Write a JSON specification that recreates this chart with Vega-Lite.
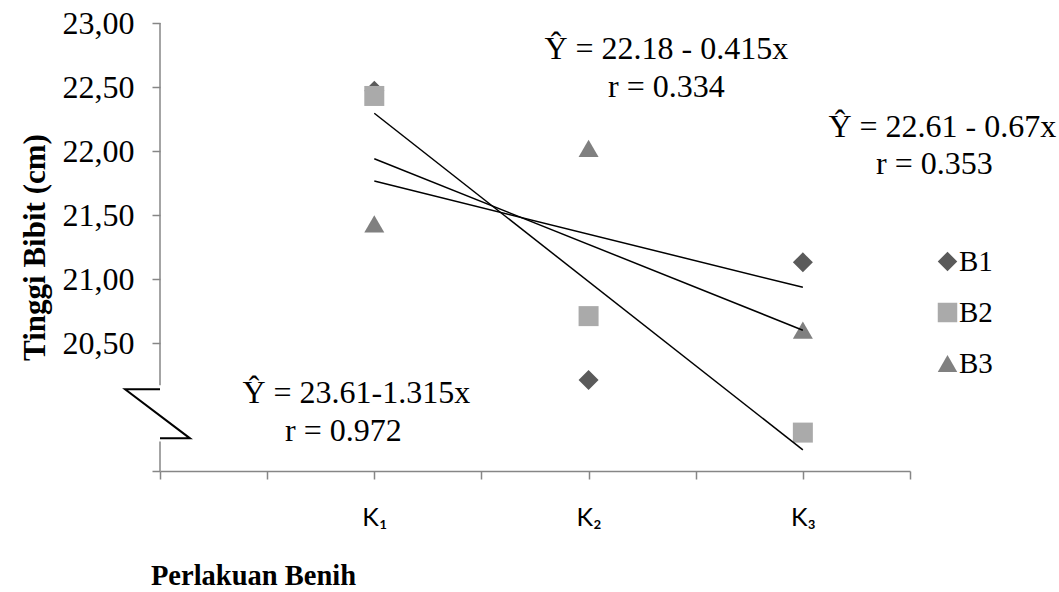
{
  "$schema": "https://vega.github.io/schema/vega-lite/v6.json",
  "autosize": {"type": "none"},
  "padding": {"left": 160, "top": 23, "right": 149, "bottom": 121},
  "width": 750,
  "height": 448,
  "background": "white",
  "config": {"view": {"stroke": null}, "font": "Liberation Serif"},
  "datasets": {
    "pts": [
      {"seri": "B1", "k": 1, "tinggi": 22.47},
      {"seri": "B1", "k": 2, "tinggi": 20.21},
      {"seri": "B1", "k": 3, "tinggi": 21.13},
      {"seri": "B2", "k": 1, "tinggi": 22.43},
      {"seri": "B2", "k": 2, "tinggi": 20.71},
      {"seri": "B2", "k": 3, "tinggi": 19.80},
      {"seri": "B3", "k": 1, "tinggi": 21.43},
      {"seri": "B3", "k": 2, "tinggi": 22.02},
      {"seri": "B3", "k": 3, "tinggi": 20.60}
    ],
    "notes": [
      {"label": "Ŷ = 22.18 - 0.415x", "nx": 2.363, "ny": 22.80},
      {"label": "r = 0.334", "nx": 2.363, "ny": 22.50},
      {"label": "Ŷ = 22.61 - 0.67x", "nx": 3.651, "ny": 22.19},
      {"label": "r = 0.353", "nx": 3.614, "ny": 21.90},
      {"label": "Ŷ = 23.61-1.315x", "nx": 0.916, "ny": 20.11},
      {"label": "r = 0.972", "nx": 0.856, "ny": 19.81}
    ],
    "yaxis": [
      {"ax": 0, "a1": 23, "a2": 20.17},
      {"ax": 0, "a1": 19.73, "a2": 19.5}
    ],
    "zig": [
      {"o": 1, "zx": 0, "zy": 20.138},
      {"o": 2, "zx": -0.163, "zy": 20.138},
      {"o": 3, "zx": 0.14, "zy": 19.755},
      {"o": 4, "zx": 0, "zy": 19.755}
    ]
  },
  "layer": [
    {
      "data": {"name": "yaxis"},
      "mark": {"type": "rule", "color": "#868686", "strokeWidth": 1.5},
      "encoding": {
        "x": {"field": "ax", "type": "quantitative", "scale": {"domain": [0, 3.5], "nice": false, "zero": false},
          "axis": {
            "values": [0, 0.5, 1, 1.5, 2, 2.5, 3, 3.5],
            "labelExpr": "datum.value == 1 ? 'K₁' : datum.value == 2 ? 'K₂' : datum.value == 3 ? 'K₃' : ''",
            "labelFont": "Lato", "labelFontSize": 25, "labelColor": "#000000", "labelPadding": 26,
            "tickSize": 8, "tickColor": "#868686", "tickWidth": 1.5,
            "domainColor": "#868686", "domainWidth": 1.5, "grid": false,
            "title": "Perlakuan Benih", "titleFont": "Liberation Serif", "titleFontSize": 28.5, "titleFontWeight": "bold",
            "titleColor": "#000000", "titleX": 93, "titleY": 104, "titleAlign": "center", "titleBaseline": "middle", "titleAnchor": null
          }},
        "y": {"field": "a1", "type": "quantitative", "scale": {"domain": [19.5, 23], "nice": false, "zero": false},
          "axis": {
            "values": [19.5, 20.5, 21, 21.5, 22, 22.5, 23],
            "labelExpr": "datum.value == 19.5 ? '' : replace(format(datum.value, '.2f'), '.', ',')",
            "labelFont": "Liberation Serif", "labelFontSize": 32, "labelColor": "#000000", "labelPadding": 18,
            "tickSize": 8, "tickColor": "#868686", "tickWidth": 1.5, "domain": false, "grid": false,
            "title": "Tinggi Bibit (cm)", "titleFont": "Liberation Serif", "titleFontSize": 31, "titleFontWeight": "bold",
            "titleColor": "#000000", "titleX": -125, "titleY": 224, "titleAlign": "center", "titleBaseline": "middle", "titleAngle": -90
          }},
        "y2": {"field": "a2"}
      }
    },
    {
      "data": {"name": "zig"},
      "mark": {"type": "line", "color": "#000000", "strokeWidth": 2},
      "encoding": {
        "x": {"field": "zx", "type": "quantitative"},
        "y": {"field": "zy", "type": "quantitative"},
        "order": {"field": "o"}
      }
    },
    {
      "data": {"name": "pts"},
      "mark": {"type": "point", "filled": true, "opacity": 1, "size": 400},
      "encoding": {
        "x": {"field": "k", "type": "quantitative"},
        "y": {"field": "tinggi", "type": "quantitative"},
        "shape": {"field": "seri", "type": "nominal", "title": null,
          "scale": {"domain": ["B1", "B2", "B3"], "range": ["diamond", "square", "triangle-up"]},
          "legend": {"orient": "none", "legendX": 773, "legendY": 224, "title": null,
            "labelFont": "Liberation Serif", "labelFontSize": 29, "labelColor": "#000000", "labelOffset": -3,
            "symbolSize": 380, "rowPadding": 21}},
        "color": {"field": "seri", "type": "nominal", "title": null,
          "scale": {"domain": ["B1", "B2", "B3"], "range": ["#5a5a5a", "#aaaaaa", "#808080"]},
          "legend": {"orient": "none", "legendX": 773, "legendY": 224, "title": null,
            "labelFont": "Liberation Serif", "labelFontSize": 29, "labelColor": "#000000", "labelOffset": -3,
            "symbolSize": 380, "rowPadding": 21}}
      }
    },
    {
      "data": {"name": "pts"},
      "transform": [{"regression": "tinggi", "on": "k", "groupby": ["seri"]}],
      "mark": {"type": "line", "color": "#000000", "strokeWidth": 1.5},
      "encoding": {
        "x": {"field": "k", "type": "quantitative"},
        "y": {"field": "tinggi", "type": "quantitative"},
        "detail": {"field": "seri", "type": "nominal"}
      }
    },
    {
      "data": {"name": "notes"},
      "mark": {"type": "text", "font": "Liberation Serif", "fontSize": 32, "color": "#000000", "align": "center", "baseline": "middle"},
      "encoding": {
        "x": {"field": "nx", "type": "quantitative"},
        "y": {"field": "ny", "type": "quantitative"},
        "text": {"field": "label"}
      }
    }
  ]
}
